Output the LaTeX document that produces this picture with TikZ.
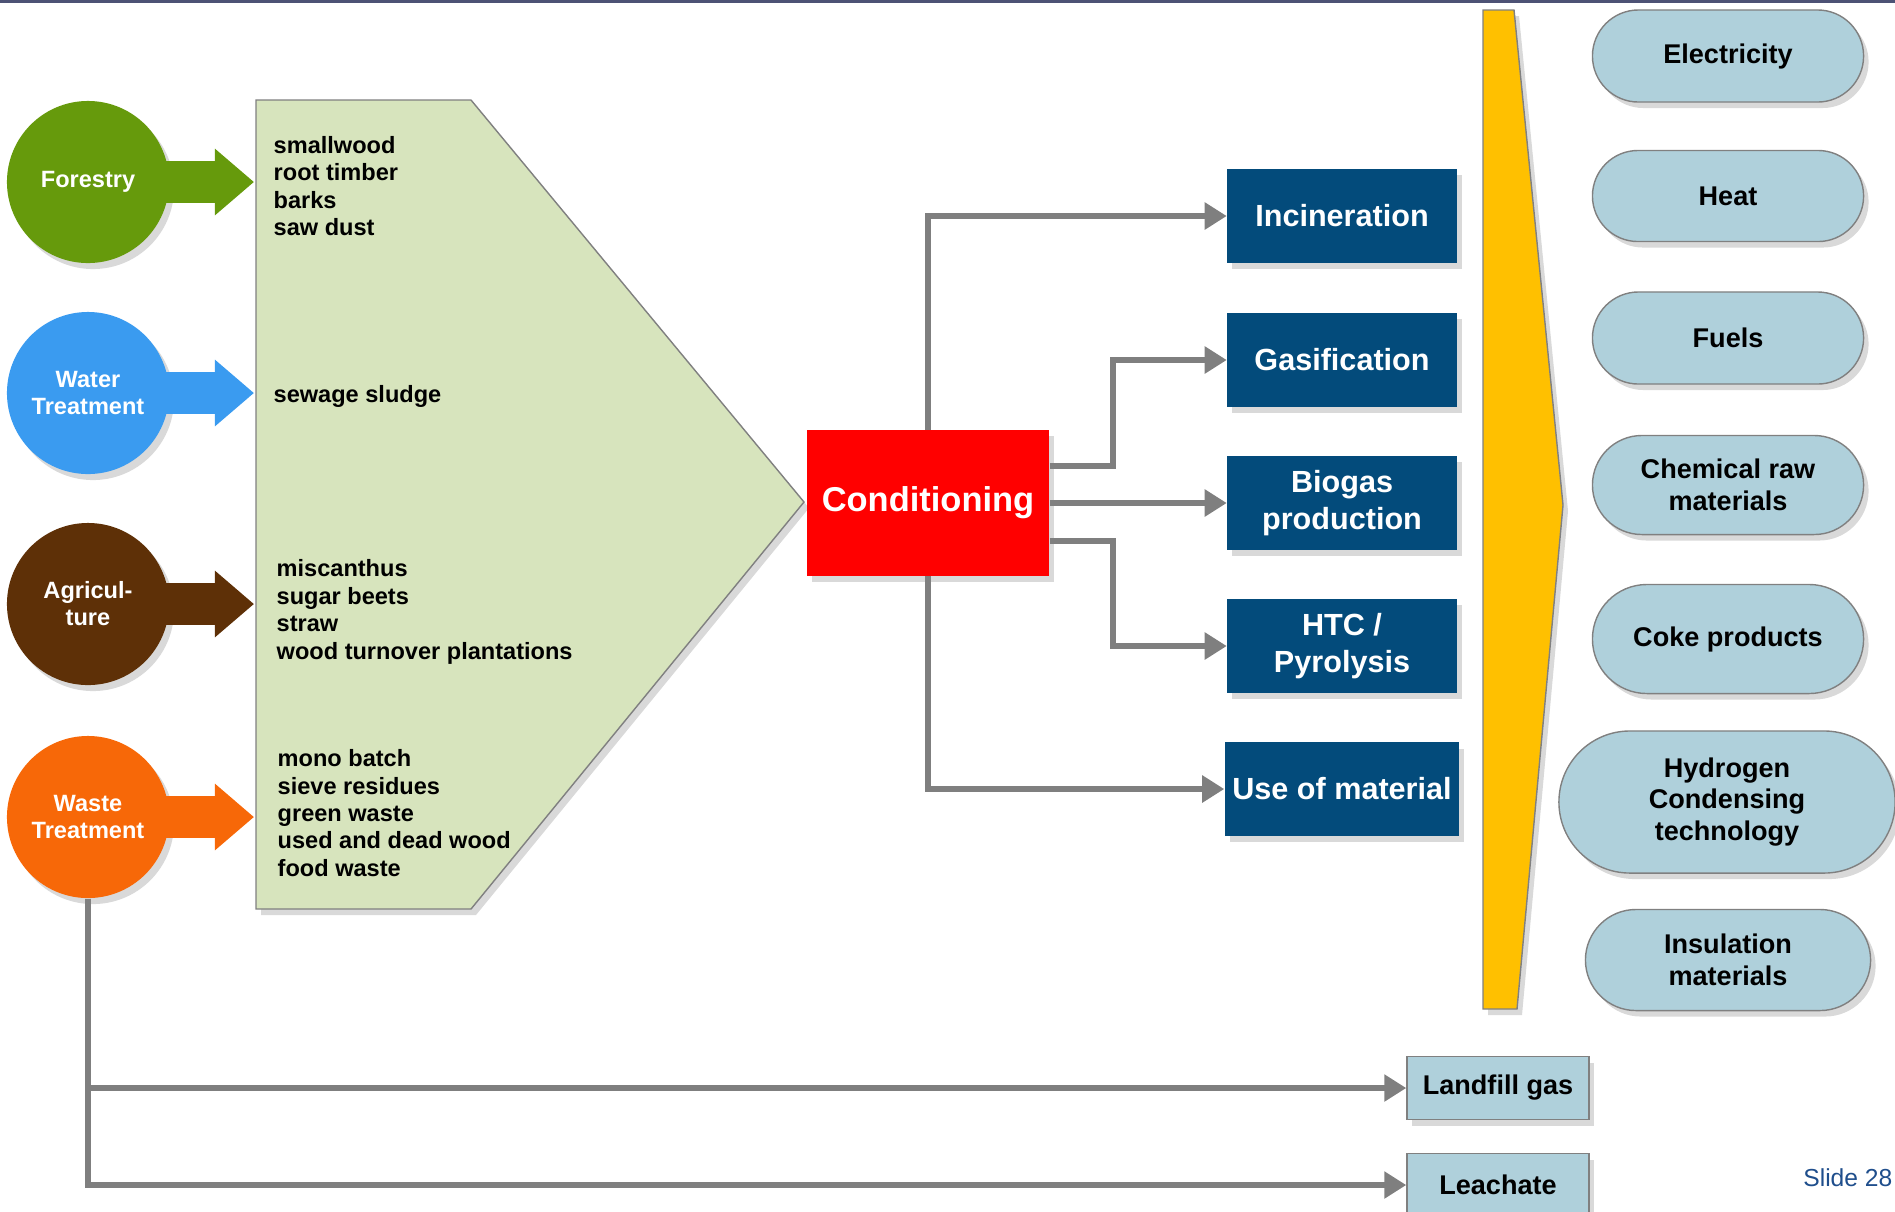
\documentclass[tikz,border=0pt]{standalone}
\usepackage{fontspec}
\setmainfont{Liberation Sans}
\usepackage{xcolor}
\usetikzlibrary{arrows.meta,shadows,shapes.misc}
\definecolor{forestgreen}{HTML}{669A0C}
\definecolor{waterblue}{HTML}{3A9BF0}
\definecolor{agribrown}{HTML}{5E3007}
\definecolor{wasteorange}{HTML}{F76808}
\definecolor{feedgreen}{HTML}{D7E4BD}
\definecolor{procblue}{HTML}{034B7B}
\definecolor{prodblue}{HTML}{AFD0DB}
\definecolor{chevron}{HTML}{FFC000}
\definecolor{linegray}{HTML}{7F7F7F}
\definecolor{slideblue}{HTML}{1F4E8C}
\definecolor{topbar}{HTML}{4D5275}
\tikzset{softshadow/.style={drop shadow={shadow xshift=0.05cm,shadow yshift=-0.06cm,opacity=0.3}}}
\tikzset{source/.style={circle,minimum size=1.62cm,inner sep=0pt,text=white,align=center,font=\fontsize{6.7}{7.7}\selectfont\bfseries,softshadow}}
\tikzset{feed/.style={line width=0.42cm,-{Triangle[length=0.39cm,width=0.64cm]}}}
\tikzset{stuff/.style={align=left,inner sep=0pt,anchor=west,font=\fontsize{6.7}{7.8}\selectfont\bfseries}}
\tikzset{process/.style={fill=procblue,text=white,minimum width=2.29cm,minimum height=0.93cm,inner sep=0pt,align=center,font=\fontsize{8.7}{10.7}\selectfont\bfseries,softshadow}}
\tikzset{product/.style={rounded rectangle,draw=gray,fill=prodblue,minimum width=2.71cm,minimum height=0.92cm,inner sep=0pt,align=center,font=\fontsize{7.7}{9}\selectfont\bfseries,softshadow}}
\tikzset{residue/.style={draw=gray,fill=prodblue,minimum width=1.82cm,minimum height=0.63cm,inner sep=0pt,font=\fontsize{7.7}{9}\selectfont\bfseries,softshadow}}
\tikzset{conn/.style={draw=linegray,line width=0.06cm,-{Triangle[length=0.22cm,width=0.26cm]}}}

\begin{document}
\begin{tikzpicture}[x=0.01cm,y=-0.01cm]
            \useasboundingbox (0,0) rectangle (1895,1211);
            \fill[topbar] (0,0) rectangle (1895,3);

            % draw the feedstock field and the chevron
            \filldraw[draw=gray,fill=feedgreen,softshadow] (256,100) -- (471,100) -- (804,502) -- (471,909) -- (256,909) -- cycle;
            \filldraw[draw=gray,fill=chevron,softshadow] (1483,10) -- (1514,10) -- (1563,505) -- (1517,1009) -- (1483,1009) -- cycle;

            % draw the sources
            \node[source,fill=forestgreen] (forestry) at (88,182) {Forestry};
            \node[source,fill=waterblue] (water) at (88,393) {Water\\Treatment};
            \node[source,fill=agribrown] (agri) at (88,604) {Agricul-\\ture};
            \node[source,fill=wasteorange] (waste) at (88,817) {Waste\\Treatment};

            \coordinate (forestrytip) at (254,182);
            \coordinate (watertip) at (254,393);
            \coordinate (agritip) at (254,604);
            \coordinate (wastetip) at (254,817);
            \draw[feed,forestgreen] ([xshift=-0.05cm]forestry.east) -- (forestrytip);
            \draw[feed,waterblue] ([xshift=-0.05cm]water.east) -- (watertip);
            \draw[feed,agribrown] ([xshift=-0.05cm]agri.east) -- (agritip);
            \draw[feed,wasteorange] ([xshift=-0.05cm]waste.east) -- (wastetip);

            % the feedstock lists
            \node[stuff] (forestrylist) at (273,186) {smallwood\\root timber\\barks\\saw dust};
            \node[stuff] (waterlist) at (273,396) {sewage sludge};
            \node[stuff] (agrilist) at (276,612) {miscanthus\\sugar beets\\straw\\wood turnover plantations};
            \node[stuff] (wastelist) at (277,813) {mono batch\\sieve residues\\green waste\\used and dead wood\\food waste};

            % draw the conditioning and the processes
            \node[fill=red,text=white,minimum width=2.42cm,minimum height=1.45cm,inner sep=0pt,font=\fontsize{9.8}{11}\selectfont\bfseries,softshadow] (cond) at (928,503) {Conditioning};
            \node[process] (incin) at (1342,216) {Incineration};
            \node[process] (gasif) at (1342,360) {Gasification};
            \node[process] (biogas) at (1342,503) {Biogas\\production};
            \node[process] (htc) at (1342,646) {HTC /\\Pyrolysis};
            \node[process,minimum width=2.34cm] (usemat) at (1342,789) {Use of material};

            \draw[conn] (cond.north) |- (incin.west);
            \draw[conn] ([yshift=0.37cm]cond.east) -- ++(63,0) |- (gasif.west);
            \draw[conn] (cond.east) -- (biogas.west);
            \draw[conn] ([yshift=-0.38cm]cond.east) -- ++(63,0) |- (htc.west);
            \draw[conn] (cond.south) |- (usemat.west);

            % draw the products
            \node[product] (electricity) at (1728,56) {Electricity};
            \node[product,minimum height=0.91cm] (heat) at (1728,196) {Heat};
            \node[product] (fuels) at (1728,338) {Fuels};
            \node[product,minimum height=0.99cm] (chemraw) at (1728,485) {Chemical raw\\materials};
            \node[product,minimum height=1.09cm] (coke) at (1728,639) {Coke products};
            \node[product,minimum width=3.36cm,minimum height=1.42cm] (hydrogen) at (1727,802) {Hydrogen\\Condensing\\technology};
            \node[product,minimum width=2.85cm,minimum height=1.01cm] (insulation) at (1728,960) {Insulation\\materials};

            % landfill route
            \node[residue] (landfill) at (1498,1088) {Landfill gas};
            \node[residue] (leachate) at (1498,1185) {Leachate};
            \draw[conn] (waste.south) |- (landfill.west);
            \draw[conn] (waste.south) |- (leachate.west);

            \node[anchor=east,inner sep=0pt,text=slideblue,font=\fontsize{7}{8}\selectfont] (slide) at (1893,1178) {Slide 28};
        \end{tikzpicture}
\end{document}
